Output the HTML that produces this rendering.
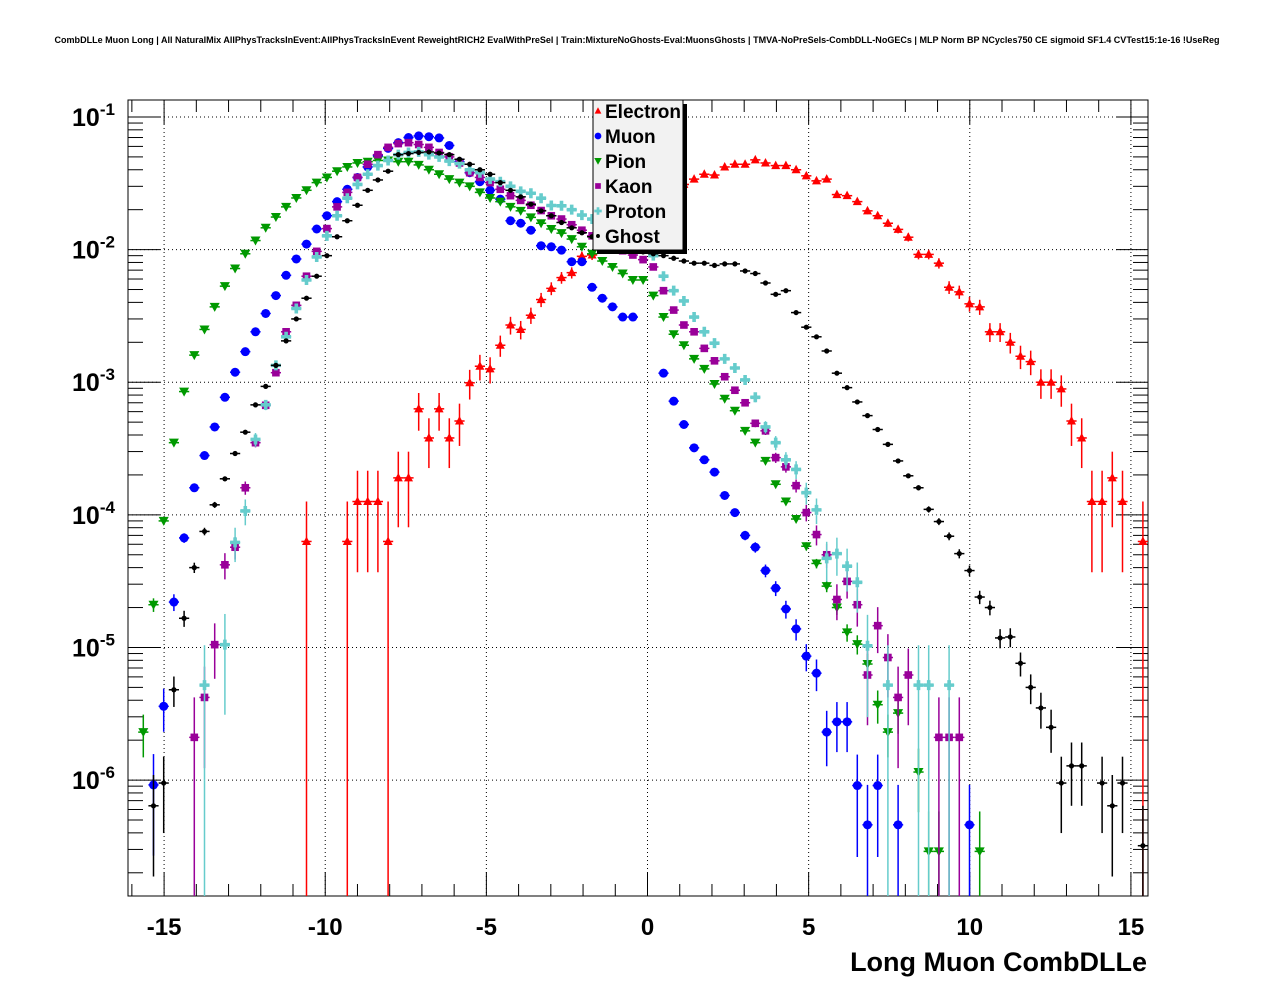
<!DOCTYPE html>
<html><head><meta charset="utf-8"><style>
html,body{margin:0;padding:0;background:#fff;}
svg{display:block;font-family:"Liberation Sans",Arial,sans-serif;}
</style></head><body>
<svg id="chart" width="1276" height="996" viewBox="0 0 1276 996" xmlns="http://www.w3.org/2000/svg">
<rect x="0" y="0" width="1276" height="996" fill="#fff"/>
<text x="637" y="43" font-size="9" font-weight="bold" text-anchor="middle" textLength="1165" lengthAdjust="spacingAndGlyphs">CombDLLe Muon Long | All NaturalMix AllPhysTracksInEvent:AllPhysTracksInEvent ReweightRICH2 EvalWithPreSel | Train:MixtureNoGhosts-Eval:MuonsGhosts | TMVA-NoPreSels-CombDLL-NoGECs | MLP Norm BP NCycles750 CE sigmoid SF1.4 CVTest15:1e-16 !UseReg</text>
<g id="grid"></g>
<g id="axes"></g>
<g id="marks"></g>
<g id="legend"></g>
<text x="1147" y="971" font-size="27" font-weight="bold" text-anchor="end">Long Muon CombDLLe</text>
</svg>
<script>
// ---- data (100 bins) ----
const xMin = -16.12, xMax = 15.53, nBins = 100;
const xTicks = [-15, -10, -5, 0, 5, 10, 15];
const yDecades = [-1, -2, -3, -4, -5, -6];
const seriesNames = ["Electron", "Muon", "Pion", "Kaon", "Proton", "Ghost"];
const electron = [
null,null,null,null,null,null,null,null,null,null,
null,null,null,null,null,null,null,6.3e-5,null,null,
null,6.3e-5,1.26e-4,1.26e-4,1.26e-4,6.3e-5,1.9e-4,1.9e-4,6.3e-4,3.8e-4,
6.3e-4,3.8e-4,5.1e-4,9.9e-4,1.32e-3,1.26e-3,1.9e-3,2.7e-3,2.5e-3,3.2e-3,
4.2e-3,5.1e-3,6.15e-3,6.7e-3,8.9e-3,9.1e-3,1.08e-2,1.27e-2,1.48e-2,1.73e-2,
2.0e-2,2.25e-2,2.55e-2,2.8e-2,3.1e-2,3.4e-2,3.7e-2,3.65e-2,4.2e-2,4.4e-2,
4.4e-2,4.75e-2,4.5e-2,4.3e-2,4.3e-2,4.0e-2,3.6e-2,3.3e-2,3.4e-2,2.6e-2,
2.55e-2,2.3e-2,1.96e-2,1.8e-2,1.58e-2,1.42e-2,1.24e-2,9.2e-3,9.2e-3,7.9e-3,
5.2e-3,4.8e-3,3.9e-3,3.7e-3,2.4e-3,2.4e-3,2.0e-3,1.57e-3,1.43e-3,1.0e-3,
1.0e-3,8.9e-4,5.1e-4,3.8e-4,1.26e-4,1.26e-4,1.9e-4,1.26e-4,null,6.3e-5];
const muon = [
null,null,9.2e-7,3.6e-6,2.2e-5,6.7e-5,1.6e-4,2.8e-4,4.6e-4,7.7e-4,
1.19e-3,1.7e-3,2.4e-3,3.3e-3,4.5e-3,6.4e-3,8.5e-3,1.1e-2,1.43e-2,1.8e-2,
2.3e-2,2.85e-2,3.5e-2,4.2e-2,5.1e-2,5.8e-2,6.4e-2,7.0e-2,7.2e-2,7.1e-2,
6.95e-2,6.1e-2,4.6e-2,3.8e-2,3.25e-2,2.8e-2,2.4e-2,1.65e-2,1.58e-2,1.4e-2,
1.07e-2,1.05e-2,9.9e-3,8.1e-3,8.1e-3,5.2e-3,4.3e-3,3.7e-3,3.1e-3,3.1e-3,
null,null,1.17e-3,7.2e-4,4.8e-4,3.2e-4,2.6e-4,2.1e-4,1.4e-4,1.04e-4,
7.0e-5,5.7e-5,3.8e-5,2.8e-5,1.95e-5,1.38e-5,8.6e-6,6.4e-6,2.3e-6,2.75e-6,
2.75e-6,9.1e-7,4.6e-7,9.1e-7,null,4.6e-7,null,null,null,null,
null,null,4.6e-7,null,null,null,null,null,null,null,
null,null,null,null,null,null,null,null,null,null];
const pion = [
null,2.3e-6,2.1e-5,9.0e-5,3.5e-4,8.5e-4,1.6e-3,2.5e-3,3.7e-3,5.3e-3,
7.2e-3,9.3e-3,1.17e-2,1.46e-2,1.76e-2,2.1e-2,2.45e-2,2.8e-2,3.2e-2,3.5e-2,
3.9e-2,4.2e-2,4.5e-2,4.6e-2,4.7e-2,4.7e-2,4.6e-2,4.6e-2,4.35e-2,4.0e-2,
3.7e-2,3.4e-2,3.2e-2,3.0e-2,2.7e-2,2.45e-2,2.3e-2,2.1e-2,1.96e-2,1.75e-2,
1.58e-2,1.43e-2,1.33e-2,1.2e-2,1.05e-2,9.3e-3,8.2e-3,7.4e-3,6.6e-3,5.9e-3,
5.9e-3,4.5e-3,3.1e-3,2.3e-3,1.9e-3,1.5e-3,1.26e-3,9.7e-4,7.5e-4,6.1e-4,
4.3e-4,3.5e-4,2.55e-4,1.7e-4,1.26e-4,9.3e-5,5.8e-5,4.3e-5,2.9e-5,2.0e-5,
1.3e-5,1.06e-5,7.5e-6,3.7e-6,2.3e-6,3.2e-6,null,1.15e-6,2.9e-7,2.9e-7,
null,null,null,2.9e-7,null,null,null,null,null,null,
null,null,null,null,null,null,null,null,null,null];
const kaon = [
null,null,null,null,null,null,2.1e-6,4.2e-6,1.05e-5,4.2e-5,
5.7e-5,1.6e-4,3.5e-4,6.7e-4,1.18e-3,2.4e-3,3.8e-3,6.3e-3,9.7e-3,1.44e-2,
2.1e-2,2.7e-2,3.5e-2,4.4e-2,5.2e-2,5.9e-2,6.3e-2,6.4e-2,6.2e-2,5.9e-2,
5.4e-2,5.0e-2,4.5e-2,3.8e-2,3.5e-2,3.2e-2,2.85e-2,2.55e-2,2.35e-2,2.16e-2,
1.97e-2,1.8e-2,1.7e-2,1.54e-2,1.4e-2,1.27e-2,1.16e-2,1.07e-2,9.8e-3,9.1e-3,
8.4e-3,7.4e-3,4.9e-3,3.5e-3,2.7e-3,2.4e-3,1.8e-3,1.45e-3,1.1e-3,8.7e-4,
7.0e-4,4.9e-4,4.3e-4,2.7e-4,2.3e-4,1.66e-4,1.04e-4,7.1e-5,5.0e-5,2.3e-5,
3.15e-5,2.1e-5,6.2e-6,1.46e-5,8.4e-6,4.2e-6,6.2e-6,null,null,2.1e-6,
2.1e-6,2.1e-6,null,null,null,null,null,null,null,null,
null,null,null,null,null,null,null,null,null,null];
const proton = [
null,null,null,null,null,null,null,5.2e-6,null,1.05e-5,
6.2e-5,1.07e-4,3.7e-4,6.75e-4,1.34e-3,2.2e-3,3.6e-3,5.9e-3,8.8e-3,1.27e-2,
1.8e-2,2.44e-2,3.1e-2,3.7e-2,4.3e-2,4.7e-2,5.2e-2,5.4e-2,5.45e-2,5.2e-2,
5.0e-2,4.65e-2,4.45e-2,4.0e-2,3.8e-2,3.4e-2,3.25e-2,3.0e-2,2.75e-2,2.66e-2,
2.44e-2,2.15e-2,2.14e-2,2.0e-2,1.82e-2,1.7e-2,1.6e-2,1.46e-2,1.33e-2,1.18e-2,
1.03e-2,9.0e-3,6.3e-3,4.9e-3,4.1e-3,3.1e-3,2.4e-3,1.97e-3,1.5e-3,1.28e-3,
1.04e-3,7.7e-4,4.6e-4,3.5e-4,2.6e-4,2.2e-4,1.47e-4,1.09e-4,4.7e-5,5.1e-5,
4.1e-5,3.1e-5,1.03e-5,null,5.2e-6,null,null,5.2e-6,5.2e-6,null,
5.2e-6,null,null,null,null,null,null,null,null,null,
null,null,null,null,null,null,null,null,null,null];
const ghost = [
null,null,6.4e-7,9.5e-7,4.8e-6,1.66e-5,4.0e-5,7.5e-5,1.19e-4,1.87e-4,
2.9e-4,4.2e-4,6.75e-4,9.3e-4,1.34e-3,2.05e-3,3.0e-3,4.3e-3,6.3e-3,9.0e-3,
1.25e-2,1.65e-2,2.16e-2,2.8e-2,3.35e-2,3.9e-2,5.2e-2,5.3e-2,5.4e-2,5.45e-2,
5.35e-2,5.2e-2,4.8e-2,4.4e-2,4.0e-2,3.7e-2,3.2e-2,2.8e-2,2.5e-2,2.2e-2,
1.96e-2,1.8e-2,1.6e-2,1.46e-2,1.34e-2,1.25e-2,1.18e-2,1.12e-2,1.07e-2,1.0e-2,
9.6e-3,9.3e-3,9.0e-3,8.6e-3,8.2e-3,7.9e-3,7.9e-3,7.6e-3,7.8e-3,7.8e-3,
6.9e-3,6.6e-3,5.6e-3,4.6e-3,4.9e-3,3.35e-3,2.6e-3,2.2e-3,1.72e-3,1.17e-3,
9.1e-4,7.1e-4,5.6e-4,4.4e-4,3.4e-4,2.55e-4,1.97e-4,1.6e-4,1.1e-4,8.9e-5,
6.9e-5,5.1e-5,3.8e-5,2.4e-5,2.0e-5,1.18e-5,1.2e-5,7.6e-6,5.0e-6,3.5e-6,
2.5e-6,9.5e-7,1.28e-6,1.28e-6,null,9.5e-7,6.4e-7,9.5e-7,null,3.2e-7];
// per-entry weight (value of a single-entry bin), used for Poisson error bars
const unitWeights = [6.3e-5, 4.6e-7, 2.9e-7, 2.1e-6, 5.2e-6, 3.2e-7];

// ---- geometry ----
const NS = "http://www.w3.org/2000/svg";
const PL = 128, PR = 1148, PT = 100, PB = 896;
const LOGMAX = -0.872, LOGMIN = -6.874;
function xPx(x){ return PL + (x - xMin) / (xMax - xMin) * (PR - PL); }
function yPx(v){ return PT + (LOGMAX - Math.log10(v)) / (LOGMAX - LOGMIN) * (PB - PT); }
function binCenter(k){ return xMin + (k + 0.5) * (xMax - xMin) / nBins; }
function mk(tag, attrs, parent){ const e = document.createElementNS(NS, tag); for (const k in attrs) e.setAttribute(k, attrs[k]); parent.appendChild(e); return e; }

const grid = document.getElementById('grid');
const axes = document.getElementById('axes');
const marks = document.getElementById('marks');
const legend = document.getElementById('legend');

// gridlines
xTicks.forEach(t => {
  const l = mk('line', {x1: xPx(t), x2: xPx(t), y1: PT, y2: PB, stroke: '#000', 'stroke-width': 1, 'stroke-dasharray': '1,3'}, grid);
  
  
});
yDecades.forEach(d => {
  const l = mk('line', {x1: PL, x2: PR, y1: yPx(Math.pow(10, d)), y2: yPx(Math.pow(10, d)), stroke: '#000', 'stroke-width': 1, 'stroke-dasharray': '1,3'}, grid);
  
  
});

// frame
const frame = mk('rect', {x: PL, y: PT, width: PR - PL, height: PB - PT, fill: 'none', stroke: '#000', 'stroke-width': 1}, axes);



// x ticks
for (let t = -16; t <= 15; t++) {
  const major = (t % 5 === 0);
  const len = major ? 24 : 12;
  const x = xPx(t);
  if (x < PL || x > PR) continue;
  const a = mk('line', {x1: x, x2: x, y1: PB, y2: PB - len, stroke: '#000', 'stroke-width': 1}, axes);
  
  
  const b = mk('line', {x1: x, x2: x, y1: PT, y2: PT + len, stroke: '#000', 'stroke-width': 1}, axes);
  
  
}
xTicks.forEach(t => {
  const tx = mk('text', {x: xPx(t), y: 935, 'font-size': 24, 'font-weight': 'bold', 'text-anchor': 'middle'}, axes);
  tx.textContent = String(t);
  
  
});
// y ticks
for (let d = -7; d <= -1; d++) {
  for (let m = 1; m <= 9; m++) {
    const v = m * Math.pow(10, d);
    const y = yPx(v);
    if (y < PT - 0.5 || y > PB + 0.5) continue;
    const len = m === 1 ? 32 : 15;
    const a = mk('line', {x1: PL, x2: PL + len, y1: y, y2: y, stroke: '#000', 'stroke-width': 1}, axes);
    
    
    const b = mk('line', {x1: PR, x2: PR - len, y1: y, y2: y, stroke: '#000', 'stroke-width': 1}, axes);
    
    
  }
}
yDecades.forEach(d => {
  const y = yPx(Math.pow(10, d));
  const tx = mk('text', {x: 72, y: y + 9, 'font-size': 25, 'font-weight': 'bold'}, axes);
  
  
  const t1 = mk('tspan', {}, tx); t1.textContent = '10';
  const t2 = mk('tspan', {dy: -11, 'font-size': 17}, tx); t2.textContent = String(d);
});

// markers
const colors = ['#ff0000', '#0000ff', '#009900', '#990099', '#66cccc', '#000000'];
const seriesData = [electron, muon, pion, kaon, proton, ghost];
function marker(type, cx, cy, color, parent){
  let e;
  if (type === 0) e = mk('polygon', {points: `${cx},${cy-5} ${cx-4.5},${cy+3.5} ${cx+4.5},${cy+3.5}`, fill: color}, parent);
  else if (type === 1) e = mk('circle', {cx: cx, cy: cy, r: 4.5, fill: color}, parent);
  else if (type === 2) e = mk('polygon', {points: `${cx-5},${cy-4} ${cx+5},${cy-4} ${cx},${cy+5}`, fill: color}, parent);
  else if (type === 3) e = mk('rect', {x: cx-3.8, y: cy-3.8, width: 7.6, height: 7.6, fill: color}, parent);
  else if (type === 4) e = mk('path', {d: `M${cx-5},${cy-1.8}h3.2v-3.2h3.6v3.2h3.2v3.6h-3.2v3.2h-3.6v-3.2h-3.2z`, fill: color}, parent);
  else e = mk('circle', {cx: cx, cy: cy, r: 2.6, fill: color}, parent);
  return e;
}
const hw = (PR - PL) / nBins / 2;
seriesData.forEach((arr, s) => {
  const g = mk('g', {}, marks);
  
  
  arr.forEach((v, k) => {
    if (v === null || v <= 0) return;
    const cx = xPx(binCenter(k)), cy = yPx(v);
    const err = Math.sqrt(v * unitWeights[s]);
    const yTop = Math.max(PT, yPx(v + err));
    const yBot = (v - err) <= Math.pow(10, LOGMIN) ? PB : Math.min(PB, yPx(v - err));
    const pg = mk('g', {}, g);
    
    
    mk('line', {x1: cx - hw, x2: cx + hw, y1: cy, y2: cy, stroke: colors[s], 'stroke-width': 1.5}, pg);
    mk('line', {x1: cx, x2: cx, y1: yTop, y2: yBot, stroke: colors[s], 'stroke-width': 1.5}, pg);
    marker(s, cx, cy, colors[s], pg);
  });
});

// legend
const LX = 593, LY = 100, LW = 90, LH = 150;
const sh = mk('rect', {x: LX + 4, y: LY + 4, width: LW, height: LH, fill: '#000'}, legend);


const lb = mk('rect', {x: LX, y: LY, width: LW, height: LH, fill: '#f2f2f2', stroke: '#000', 'stroke-width': 1}, legend);


seriesNames.forEach((n, i) => {
  const y = 111 + i * 25;
  const eg = mk('g', {}, legend);
  
  
  const mg = mk('g', {transform: `translate(${598},${y}) scale(0.75) translate(${-598},${-y})`}, eg);
  marker(i, 598, y, colors[i], mg);
  const t = mk('text', {x: 605, y: y + 7, 'font-size': 19, 'font-weight': 'bold'}, eg);
  t.textContent = n;
});
</script>
</body></html>
